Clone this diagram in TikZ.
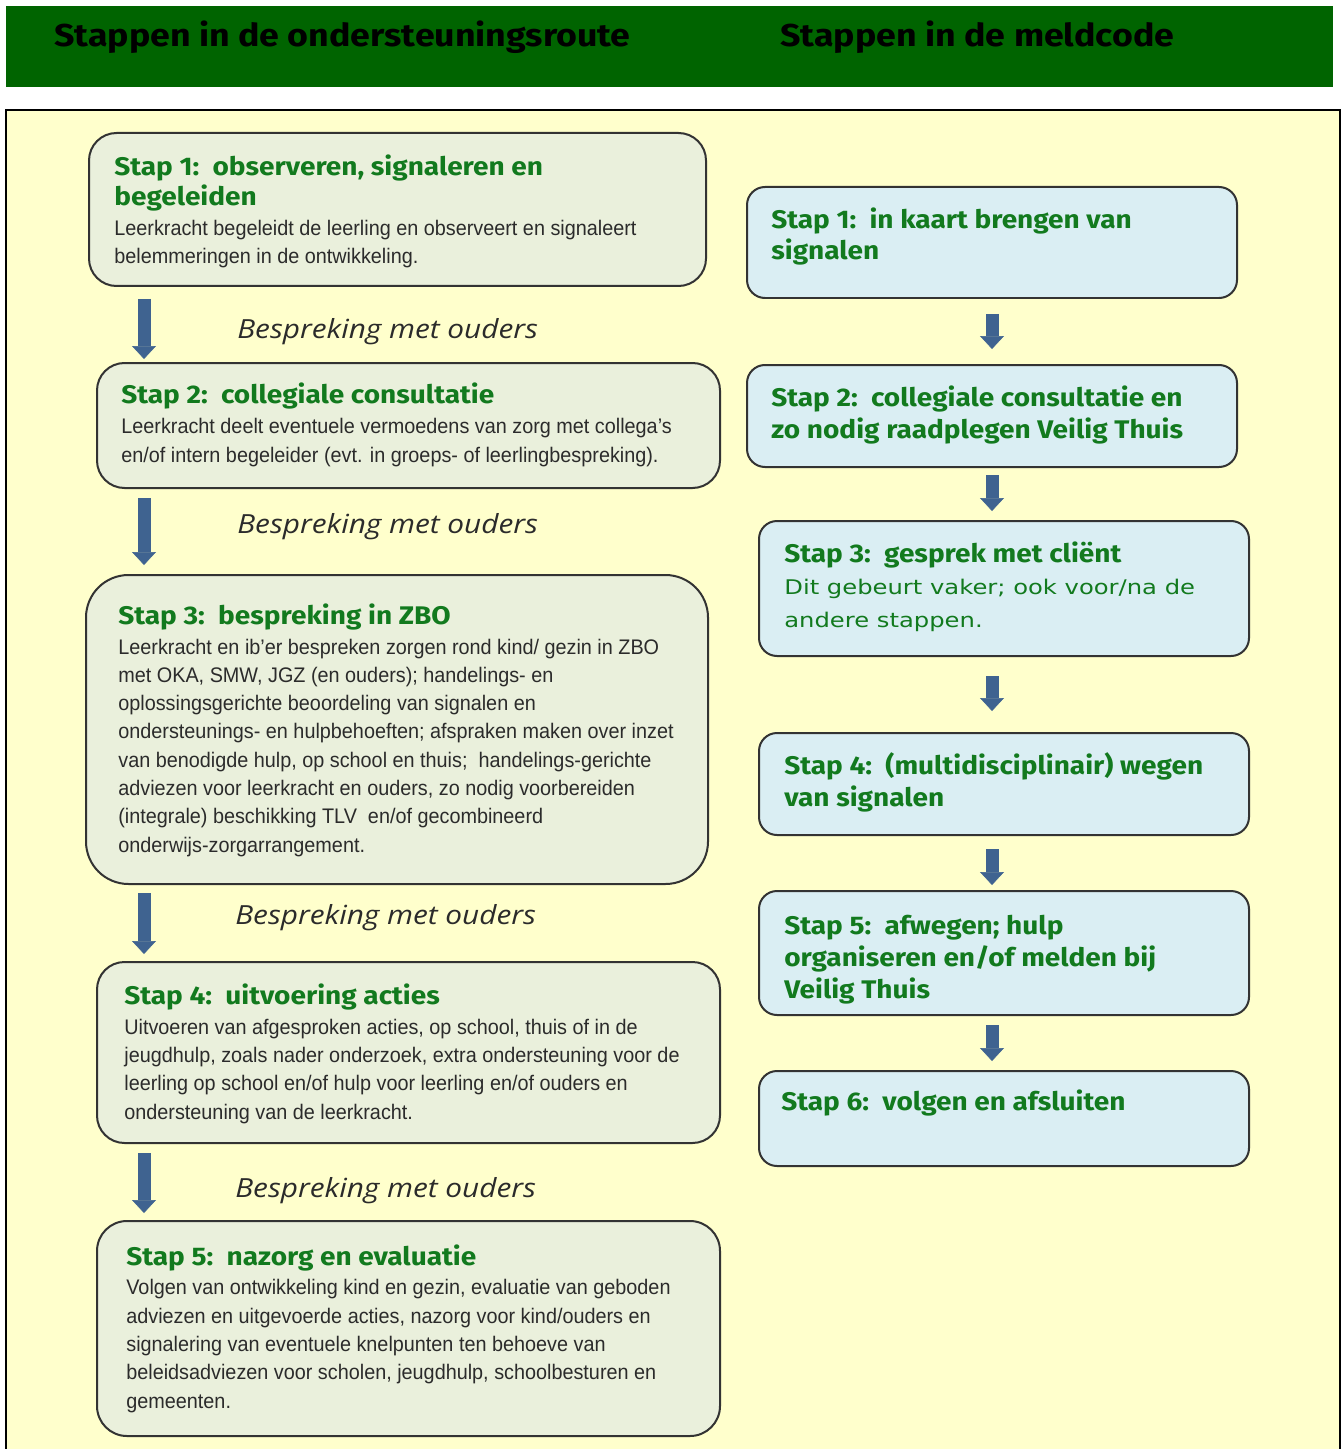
\documentclass[tikz,border=0pt]{standalone}
\usepackage{fontspec}
\setmainfont{Liberation Sans}
\newfontfamily\kopfont{Fira Sans}[FakeStretch=1.13]
\newfontfamily\titelfont{Fira Sans}[FakeStretch=1.1]
\newfontfamily\smalfont{Liberation Sans}[FakeStretch=0.94]
\newfontfamily\gesprekfont{Open Sans}[FakeStretch=1.13]
\newfontfamily\verdfont{DejaVu Sans}[FakeStretch=1.2]
\usetikzlibrary{arrows.meta,fit}

\definecolor{kopgroen}{HTML}{006400}
\definecolor{vlakgeel}{HTML}{FFFFCC}
\definecolor{lvakkleur}{HTML}{EAF0DC}
\definecolor{rvakkleur}{HTML}{DAEEF3}
\definecolor{stapgroen}{HTML}{127A1E}
\definecolor{pijlblauw}{HTML}{3F6390}
\definecolor{randgrijs}{HTML}{333333}
\definecolor{tekstgrijs}{HTML}{2B2B2B}

\tikzset{
  kop/.style={anchor=base west, inner sep=0pt, text=black, font=\kopfont\bfseries\fontsize{18}{20}\selectfont},
  lvak/.style={draw=randgrijs, line width=0.04cm, fill=lvakkleur, rounded corners=0.55cm, inner sep=0pt},
  rvak/.style={draw=randgrijs, line width=0.04cm, fill=rvakkleur, rounded corners=0.36cm, inner sep=0pt},
  staptitel/.style={anchor=base west, inner sep=0pt, align=left, text=stapgroen, font=\titelfont\bfseries\fontsize{14.5}{17.5}\selectfont},
  rtitel/.style={staptitel, font=\titelfont\bfseries\fontsize{14.5}{18.2}\selectfont},
  staptekst/.style={anchor=base west, inner sep=0pt, align=left, text=tekstgrijs, font=\smalfont\fontsize{12}{16.1}\selectfont},
  overleg/.style={anchor=base west, inner sep=0pt, text=tekstgrijs, font=\gesprekfont\itshape\fontsize{15}{17}\selectfont},
  pijl/.style={draw=pijlblauw, line width=0.26cm, -{Triangle[width=0.48cm,length=0.26cm,line width=0.01cm]}},
}

\begin{document}
\begin{tikzpicture}[x=0.02cm, y=-0.02cm]
  \path[use as bounding box, clip] (0,0) rectangle (1344,1449);

  % header band
  \fill[kopgroen] (6,6) rectangle (1333,87);
  \node[kop] (kopl) at (54,47) {Stappen in de ondersteuningsroute};
  \node[kop] (kopr) at (780,47) {Stappen in de meldcode};

  % yellow panel
  \draw[fill=vlakgeel, draw=black, line width=0.04cm] (6,110) rectangle (1340,1480);

  \coordinate (lx) at (144,0);
  \coordinate (rx) at (992,0);

  % left column: ondersteuningsroute (multi-line texts sit on their last baseline)
  \node[lvak, fit={(89,133) (706,286)}] (l1) {};
  \node[staptitel] (l1t) at (114,206) {Stap 1:\ \ observeren, signaleren en\\begeleiden};
  \node[staptekst] (l1b) at (114,264) {Leerkracht begeleidt de leerling en observeert en signaleert\\belemmeringen in de ontwikkeling.};

  \node[lvak, fit={(97,363) (720,488)}] (l2) {};
  \node[staptitel] (l2t) at (121,403) {Stap 2:\ \ collegiale consultatie};
  \node[staptekst] (l2b) at (121,462) {Leerkracht deelt eventuele vermoedens van zorg met collega’s\\en/of intern begeleider (evt. in groeps- of leerlingbespreking).};

  \node[lvak, rounded corners=0.85cm, fit={(86,575) (708,884)}] (l3) {};
  \node[staptitel] (l3t) at (118,624) {Stap 3:\ \ bespreking in ZBO};
  \node[staptekst] (l3b) at (118,852) {Leerkracht en ib’er bespreken zorgen rond kind/ gezin in ZBO\\
    met OKA, SMW, JGZ (en ouders); handelings- en\\
    oplossingsgerichte beoordeling van signalen en\\
    ondersteunings- en hulpbehoeften; afspraken maken over inzet\\
    van benodigde hulp, op school en thuis;\ \ handelings-gerichte\\
    adviezen voor leerkracht en ouders, zo nodig voorbereiden\\
    (integrale) beschikking TLV\ \ en/of gecombineerd\\
    onderwijs-zorgarrangement.};

  \node[lvak, fit={(97,962) (720,1143)}] (l4) {};
  \node[staptitel] (l4t) at (124,1004) {Stap 4:\ \ uitvoering acties};
  \node[staptekst] (l4b) at (124,1119) {Uitvoeren van afgesproken acties, op school, thuis of in de\\
    jeugdhulp, zoals nader onderzoek, extra ondersteuning voor de\\
    leerling op school en/of hulp voor leerling en/of ouders en\\
    ondersteuning van de leerkracht.};

  \node[lvak, rounded corners=0.6cm, fit={(97,1221) (720,1436)}] (l5) {};
  \node[staptitel] (l5t) at (126,1265) {Stap 5:\ \ nazorg en evaluatie};
  \node[staptekst] (l5b) at (126,1408) {Volgen van ontwikkeling kind en gezin, evaluatie van geboden\\
    adviezen en uitgevoerde acties, nazorg voor kind/ouders en\\
    signalering van eventuele knelpunten ten behoeve van\\
    beleidsadviezen voor scholen, jeugdhulp, schoolbesturen en\\
    gemeenten.};

  \node[overleg] (o1) at (237,338) {Bespreking met ouders};
  \node[overleg] (o2) at (237,533) {Bespreking met ouders};
  \node[overleg] (o3) at (235,924) {Bespreking met ouders};
  \node[overleg] (o4) at (235,1197) {Bespreking met ouders};

  \draw[pijl, shorten <=0.24cm, shorten >=0.06cm] (l1.south -| lx) -- (l2.north -| lx);
  \draw[pijl, shorten <=0.18cm, shorten >=0.18cm] (l2.south -| lx) -- (l3.north -| lx);
  \draw[pijl, shorten <=0.16cm, shorten >=0.14cm] (l3.south -| lx) -- (l4.north -| lx);
  \draw[pijl, shorten <=0.18cm, shorten >=0.14cm] (l4.south -| lx) -- (l5.north -| lx);

  % right column: meldcode
  \node[rvak, fit={(747,187) (1237,298)}] (r1) {};
  \node[rtitel] (r1t) at (771,260) {Stap 1:\ \ in kaart brengen van\\signalen};

  \node[rvak, fit={(747,365) (1237,467)}] (r2) {};
  \node[rtitel] (r2t) at (771,438) {Stap 2:\ \ collegiale consultatie en\\zo nodig raadplegen Veilig Thuis};

  \node[rvak, fit={(759,521) (1249,656)}] (r3) {};
  \node[rtitel] (r3t) at (784,562) {Stap 3:\ \ gesprek met cliënt};
  \node[staptekst, text=stapgroen, font=\verdfont\fontsize{11.5}{18.7}\selectfont] (r3b) at (784,627) {Dit gebeurt vaker; ook voor/na de\\andere stappen.};

  \node[rvak, fit={(759,733) (1249,835)}] (r4) {};
  \node[rtitel] (r4t) at (784,806) {Stap 4:\ \ (multidisciplinair) wegen\\van signalen};

  \node[rvak, fit={(759,891) (1249,1015)}] (r5) {};
  \node[rtitel] (r5t) at (784,998) {Stap 5:\ \ afwegen; hulp\\organiseren en/of melden bij\\Veilig Thuis};

  \node[rvak, fit={(759,1071) (1249,1166)}] (r6) {};
  \node[rtitel] (r6t) at (781,1110) {Stap 6:\ \ volgen en afsluiten};

  \draw[pijl, shorten <=0.30cm, shorten >=0.30cm] (r1.south -| rx) -- (r2.north -| rx);
  \draw[pijl, shorten <=0.14cm, shorten >=0.18cm] (r2.south -| rx) -- (r3.north -| rx);
  \draw[pijl, shorten <=0.38cm, shorten >=0.42cm] (r3.south -| rx) -- (r4.north -| rx);
  \draw[pijl, shorten <=0.26cm, shorten >=0.10cm] (r4.south -| rx) -- (r5.north -| rx);
  \draw[pijl, shorten <=0.18cm, shorten >=0.18cm] (r5.south -| rx) -- (r6.north -| rx);
\end{tikzpicture}
\end{document}
